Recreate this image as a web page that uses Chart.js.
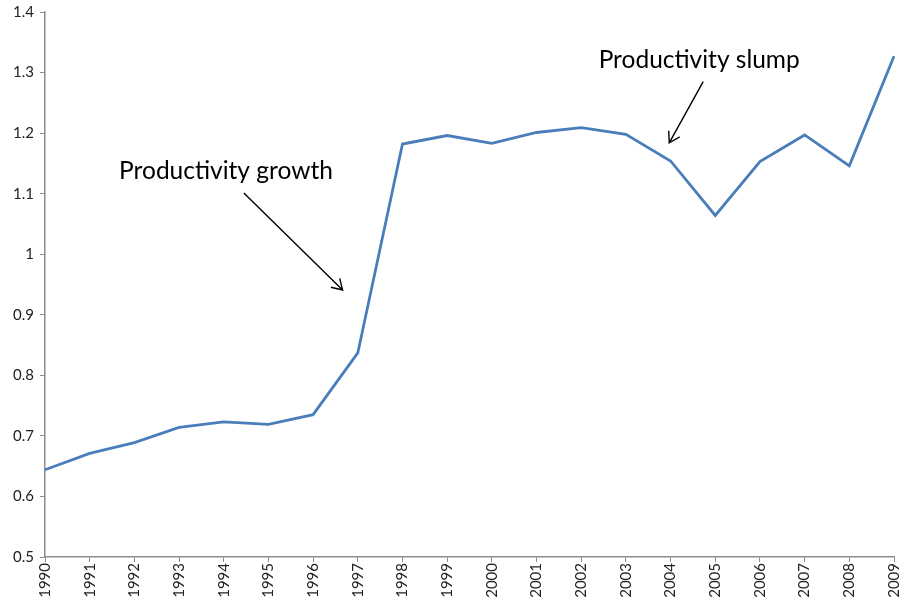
<!DOCTYPE html>
<html>
<head>
<meta charset="utf-8">
<script src="https://cdn.jsdelivr.net/npm/chart.js@4"></script>
<style>
  html, body { margin: 0; padding: 0; background: #fff; }
  #wrap { width: 904px; height: 601px; position: relative; }
</style>
</head>
<body>
<div id="wrap"><canvas id="grafico"></canvas></div>
<script>
// dados
const anos = ['1990','1991','1992','1993','1994','1995','1996','1997','1998','1999',
              '2000','2001','2002','2003','2004','2005','2006','2007','2008','2009'];
const produtividade = [0.644, 0.671, 0.689, 0.714, 0.723, 0.719, 0.735, 0.837, 1.182, 1.196,
                       1.183, 1.201, 1.209, 1.198, 1.154, 1.064, 1.153, 1.197, 1.146, 1.327];
const ticksY = [0.5, 0.6, 0.7, 0.8, 0.9, 1, 1.1, 1.2, 1.3, 1.4];

// anotações em coordenadas de dados (índice do ano, valor)
const notas = [
    { texto: 'Productivity growth', x: 4.05, y: 1.1375, de: [4.45, 1.101], para: [6.66, 0.941] },
    { texto: 'Productivity slump', x: 14.64, y: 1.321, de: [14.73, 1.285], para: [13.97, 1.184] }
];

const corEixo = '#8c8c8c';
const fonteEixo = { family: 'Lato, "Open Sans", sans-serif', size: 15 };

const pluginNotas = {
    id: 'notas',
    afterDatasetsDraw(chart) {
        const ctx = chart.ctx;
        const sx = chart.scales.x, sy = chart.scales.y;
        ctx.save();
        notas.forEach(n => {
            ctx.fillStyle = '#000';
            ctx.font = '24.5px Lato, "Open Sans", sans-serif';
            ctx.textAlign = 'center';
            ctx.textBaseline = 'middle';
            ctx.fillText(n.texto, sx.getPixelForValue(n.x), sy.getPixelForValue(n.y));

            const x1 = sx.getPixelForValue(n.de[0]), y1 = sy.getPixelForValue(n.de[1]);
            const x2 = sx.getPixelForValue(n.para[0]), y2 = sy.getPixelForValue(n.para[1]);
            ctx.strokeStyle = '#000';
            ctx.lineWidth = 1.4;
            ctx.beginPath();
            ctx.moveTo(x1, y1);
            ctx.lineTo(x2, y2);
            const ang = Math.atan2(y2 - y1, x2 - x1);
            const tam = 12;
            ctx.moveTo(x2 - tam * Math.cos(ang - 0.55), y2 - tam * Math.sin(ang - 0.55));
            ctx.lineTo(x2, y2);
            ctx.lineTo(x2 - tam * Math.cos(ang + 0.55), y2 - tam * Math.sin(ang + 0.55));
            ctx.stroke();
        });
        ctx.restore();
    }
};

new Chart(document.getElementById('grafico'), {
    type: 'line',
    data: {
        labels: anos,
        datasets: [{
            data: produtividade,
            borderColor: '#4a7ebb',
            borderWidth: 2.8,
            pointRadius: 0,
            tension: 0,
            fill: false
        }]
    },
    options: {
        responsive: true,
        maintainAspectRatio: false,
        animation: false,
        layout: { padding: { top: 12, right: 10, left: 0, bottom: 0 } },
        plugins: { legend: { display: false }, tooltip: { enabled: false } },
        scales: {
            x: {
                offset: false,
                grid: { display: true, drawOnChartArea: false, drawTicks: true, tickLength: 5, color: corEixo },
                border: { color: corEixo, width: 1.5 },
                ticks: { color: '#222', font: fonteEixo, minRotation: 90, maxRotation: 90, padding: 1, autoSkip: false },
                afterFit: s => { s.height = 44; s.paddingLeft = 0; s.paddingRight = 0; }
            },
            y: {
                min: 0.5,
                max: 1.4,
                afterBuildTicks: s => { s.ticks = ticksY.map(v => ({ value: v })); },
                grid: { display: true, drawOnChartArea: false, drawTicks: true, tickLength: 5, color: corEixo },
                border: { color: corEixo, width: 1.5 },
                ticks: { color: '#222', font: fonteEixo, padding: 6, callback: v => String(Math.round(v * 10) / 10) },
                afterFit: s => { s.width = 45; s.paddingTop = 0; s.paddingBottom = 0; }
            }
        }
    },
    plugins: [pluginNotas]
});
</script>
</body>
</html>
